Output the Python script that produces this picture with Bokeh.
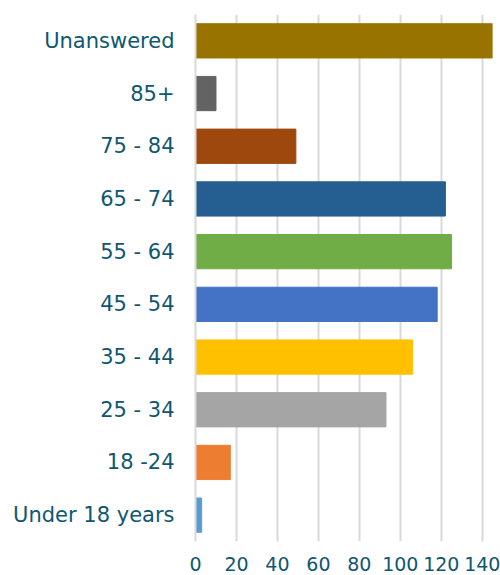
from bokeh.plotting import figure
from bokeh.models import FactorRange, Range1d, ColumnDataSource, FixedTicker
from bokeh.embed import file_html
from bokeh.resources import INLINE

categories = ["Under 18 years", "18 -24", "25 - 34", "35 - 44", "45 - 54",
              "55 - 64", "65 - 74", "75 - 84", "85+", "Unanswered"]
values = [3, 17, 93, 106, 118, 125, 122, 49, 10, 145]
colors = ["#5B9BD5", "#ED7D31", "#A5A5A5", "#FFC000", "#4472C4",
          "#70AD47", "#255E91", "#9E480E", "#636363", "#997300"]
x_ticks = [0, 20, 40, 60, 80, 100, 120, 140]

src = ColumnDataSource(dict(cat=categories, val=values, color=colors))

FONT = "DejaVu Sans"
TXT = "#0F5770"

p = figure(width=500, height=575, output_backend="svg", toolbar_location=None,
           y_range=FactorRange(*categories, range_padding=0),
           x_range=Range1d(0, 145),
           min_border_left=195, min_border_right=8, min_border_top=14, min_border_bottom=34)
p.outline_line_color = None
p.hbar(y="cat", right="val", left=0, height=0.65, color="color", source=src)

p.xgrid.ticker = FixedTicker(ticks=x_ticks)
p.xgrid.grid_line_color = "#D9D9D9"
p.xgrid.grid_line_width = 2
p.ygrid.grid_line_color = None

p.xaxis.ticker = FixedTicker(ticks=x_ticks)
p.xaxis.axis_line_color = None
p.xaxis.major_tick_line_color = None
p.xaxis.major_tick_in = 0
p.xaxis.major_tick_out = 0
p.xaxis.minor_tick_line_color = None
p.xaxis.major_label_standoff = 15
p.xaxis.major_label_text_font = FONT
p.xaxis.major_label_text_font_size = "19px"
p.xaxis.major_label_text_color = TXT

p.yaxis.axis_line_color = "#D9D9D9"
p.yaxis.axis_line_width = 2
p.yaxis.major_tick_line_color = None
p.yaxis.minor_tick_line_color = None
p.yaxis.major_tick_out = 0
p.yaxis.major_label_standoff = 21
p.yaxis.major_label_text_font = FONT
p.yaxis.major_label_text_font_size = "21px"
p.yaxis.major_label_text_color = TXT

open("out.html", "w").write(file_html(p, INLINE))
